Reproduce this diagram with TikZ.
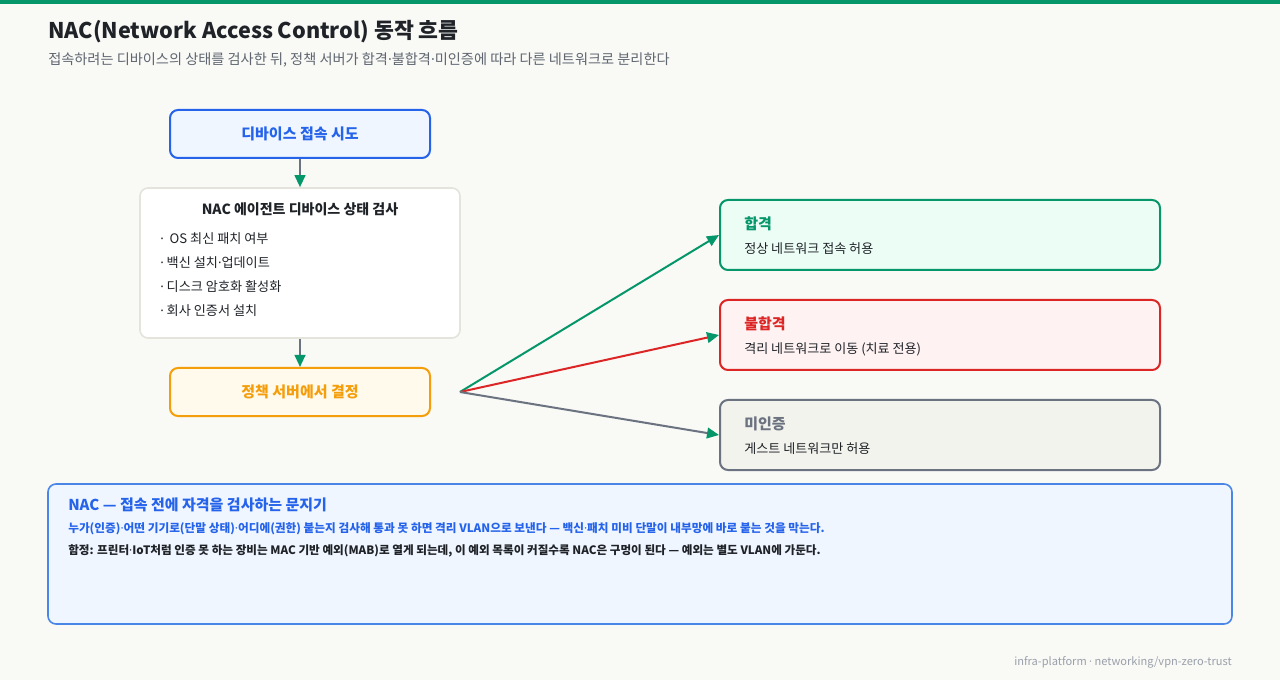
\documentclass[tikz,border=0pt]{standalone}
\usepackage{fontspec}
\setmainfont{Noto Sans CJK KR}
\newfontfamily\latinfont{Noto Sans}
\newcommand{\mdot}{{\latinfont ·}}
\usetikzlibrary{arrows.meta}
\definecolor{pagebg}{HTML}{F9F9F6}
\definecolor{topbar}{HTML}{059669}
\definecolor{inkdark}{HTML}{1F2328}
\definecolor{inkgray}{HTML}{5F6670}
\definecolor{footgray}{HTML}{9AA0AA}
\definecolor{nacblue}{HTML}{2563EB}
\definecolor{nacbluefill}{HTML}{EFF6FF}
\definecolor{noteblue}{HTML}{4A86E8}
\definecolor{nacorange}{HTML}{F59E0B}
\definecolor{nacorangefill}{HTML}{FFFAEB}
\definecolor{nacgreen}{HTML}{059669}
\definecolor{nacgreenfill}{HTML}{ECFDF5}
\definecolor{nacred}{HTML}{DC2626}
\definecolor{nacredfill}{HTML}{FEF2F2}
\definecolor{nacslate}{HTML}{6B7280}
\definecolor{nacslatefill}{HTML}{F3F3EE}
\definecolor{checkline}{HTML}{E4E4DC}

\begin{document}
\begin{tikzpicture}[x=0.75pt,y=-0.75pt,
  box/.style={draw,line width=1.5pt,rounded corners=6pt,inner sep=0pt},
  flowbox/.style={box,minimum width=195pt,minimum height=36pt,font=\fontsize{11.25}{14}\selectfont\bfseries},
  resultbox/.style={box,minimum width=330pt,minimum height=52.5pt},
  restitle/.style={anchor=west,inner sep=0pt,font=\fontsize{11.25}{14}\selectfont\bfseries},
  resdesc/.style={anchor=west,inner sep=0pt,text=inkdark,font=\fontsize{9.8}{12}\selectfont},
  link/.style={line width=1.5pt,-{Triangle[length=9pt,width=8pt,color=nacgreen]}}]
  % page and top bar
  \useasboundingbox[fill=pagebg] (0,0) rectangle (1280,680);
  \fill[topbar] (0,0) rectangle (1280,4);
  \node[anchor=west,inner sep=0pt,text=inkdark,font=\fontsize{16.2}{20}\selectfont\bfseries] (title) at (48,32) {NAC(Network Access Control) 동작 흐름};
  \node[anchor=west,inner sep=0pt,text=inkgray,font=\fontsize{10.65}{13}\selectfont] (subtitle) at (48,60) {접속하려는 디바이스의 상태를 검사한 뒤, 정책 서버가 합격\mdot 불합격\mdot 미인증에 따라 다른 네트워크로 분리한다};

  % left flow
  \node[flowbox,color=nacblue,fill=nacbluefill] (attempt) at (300,134) {디바이스 접속 시도};
  \node[box,draw=checkline,fill=white,line width=1.2pt,minimum width=240pt,minimum height=112.5pt] (check) at (300,263) {};
  \node[inner sep=0pt,text=inkdark,font=\fontsize{10.5}{13}\selectfont\bfseries] (checktitle) at (300,209) {NAC 에이전트 디바이스 상태 검사};
  \foreach \txt [count=\i] in {\mdot\ \ OS 최신 패치 여부,\mdot\ 백신 설치\mdot 업데이트,\mdot\ 디스크 암호화 활성화,\mdot\ 회사 인증서 설치}
    \node[anchor=west,inner sep=0pt,text=inkdark,font=\fontsize{9.85}{12}\selectfont] (item\i) at (160,215+24*\i) {\txt};
  \node[flowbox,color=nacorange,fill=nacorangefill] (decide) at (300,392) {정책 서버에서 결정};
  \coordinate (fork) at (460,392);

  % results
  \node[resultbox,draw=nacgreen,fill=nacgreenfill] (pass) at (940,235) {};
  \node[restitle,text=nacgreen] (passtitle) at (744,224) {합격};
  \node[resdesc] (passdesc) at (744,249) {정상 네트워크 접속 허용};
  \node[resultbox,draw=nacred,fill=nacredfill] (fail) at (940,335) {};
  \node[restitle,text=nacred] (failtitle) at (744,324) {불합격};
  \node[resdesc] (faildesc) at (744,349) {격리 네트워크로 이동 (치료 전용)};
  \node[resultbox,draw=nacslate,fill=nacslatefill] (guest) at (940,435) {};
  \node[restitle,text=nacslate] (guesttitle) at (744,424) {미인증};
  \node[resdesc] (guestdesc) at (744,449) {게스트 네트워크만 허용};

  % connectors
  \draw[link,nacslate] (attempt) -- (check);
  \draw[link,nacslate] (check) -- (decide);
  \draw[link,nacgreen] (fork) -- (pass.west);
  \draw[link,nacred] (fork) -- (fail.west);
  \draw[link,nacslate] (fork) -- (guest.west);

  % note
  \node[box,draw=noteblue,fill=nacbluefill,line width=1.2pt,minimum width=888pt,minimum height=105pt] (note) at (640,554) {};
  \node[anchor=west,inner sep=0pt,text=nacblue,font=\fontsize{11.25}{14}\selectfont\bfseries] (notetitle) at (68,505) {NAC — 접속 전에 자격을 검사하는 문지기};
  \node[anchor=west,inner sep=0pt,text=nacblue,font=\fontsize{8.75}{11}\selectfont\bfseries] (noteline1) at (68,529) {누가(인증)\mdot 어떤 기기로(단말 상태)\mdot 어디에(권한) 붙는지 검사해 통과 못 하면 격리 VLAN으로 보낸다 — 백신\mdot 패치 미비 단말이 내부망에 바로 붙는 것을 막는다.};
  \node[anchor=west,inner sep=0pt,text=inkdark,font=\fontsize{8.7}{11}\selectfont\bfseries] (noteline2) at (68,551) {함정: 프린터\mdot IoT처럼 인증 못 하는 장비는 MAC 기반 예외(MAB)로 열게 되는데, 이 예외 목록이 커질수록 NAC은 구멍이 된다 — 예외는 별도 VLAN에 가둔다.};

  \node[anchor=east,inner sep=0pt,text=footgray,font=\fontsize{8.3}{10}\selectfont] (footer) at (1232,662) {infra-platform\ \mdot\ networking/vpn-zero-trust};
\end{tikzpicture}
\end{document}
